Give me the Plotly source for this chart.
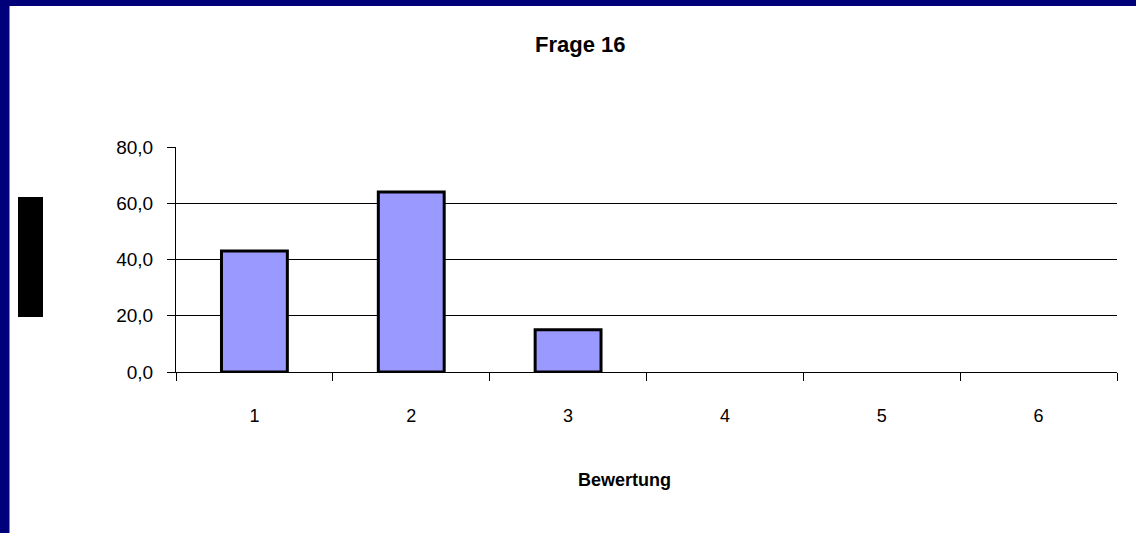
import plotly.graph_objects as go

categories = ["1", "2", "3", "4", "5", "6"]
values = [43.0, 64.0, 15.0, 0, 0, 0]
y_ticks = [0, 20, 40, 60, 80]
title_text = "Frage 16"
x_title = "Bewertung"

W, H = 1136, 533
L, R, T, B = 176, 19, 147, 161
PW = W - L - R
PH = H - T - B

def px(x):
    return (x - L) / PW

def py(y):
    return (H - B - y) / PH

FONT = "Liberation Sans, Arial, sans-serif"

fig = go.Figure(go.Bar(
    x=categories, y=values,
    marker=dict(color="#9999FF",
                line=dict(color="black", width=[3 if v > 0 else 0 for v in values])),
    width=0.42,
))

fig.update_layout(
    width=W, height=H,
    margin=dict(l=L, r=R, t=T, b=B, autoexpand=False),
    paper_bgcolor="white", plot_bgcolor="white",
    separators=",.",
    showlegend=False,
    font=dict(family=FONT, color="black"),
    xaxis=dict(
        type="category", showgrid=False, showline=True, linecolor="black", linewidth=1,
        ticks="outside", tickson="boundaries", ticklen=8, tickcolor="black", tickwidth=1,
        tickfont=dict(size=18, family=FONT, color="black"), ticklabelstandoff=27,
        zeroline=False,
    ),
    yaxis=dict(
        range=[0, 80], tickvals=y_ticks, tickformat=".1f",
        showgrid=True, gridcolor="black", gridwidth=1,
        showline=True, linecolor="black", linewidth=1,
        ticks="outside", ticklen=8, tickcolor="black", tickwidth=1,
        tickfont=dict(size=19, family=FONT, color="black"), ticklabelstandoff=10,
        zeroline=False,
    ),
    shapes=[
        dict(type="rect", xref="paper", yref="paper", x0=px(0), x1=px(9.5), y0=py(H), y1=py(0),
             fillcolor="#00007A", line=dict(width=0), layer="below"),
        dict(type="rect", xref="paper", yref="paper", x0=px(0), x1=px(W), y0=py(6), y1=py(0),
             fillcolor="#00007A", line=dict(width=0), layer="below"),
        dict(type="rect", xref="paper", yref="paper", x0=px(18), x1=px(43), y0=py(317), y1=py(197),
             fillcolor="black", line=dict(width=0)),
    ],
    annotations=[
        dict(text="<b>" + title_text + "</b>", xref="paper", yref="paper", x=px(580), y=py(45),
             xanchor="center", yanchor="middle", showarrow=False, font=dict(size=22, family=FONT, color="black")),
        dict(text="<b>" + x_title + "</b>", xref="paper", yref="paper", x=px(624), y=py(480),
             xanchor="center", yanchor="middle", showarrow=False, font=dict(size=18, family=FONT, color="black")),
    ],
)

fig.write_html(
    "out.html",
    config={"displayModeBar": False},
    post_script="document.body.style.margin='0';document.body.style.overflow='hidden';",
)
